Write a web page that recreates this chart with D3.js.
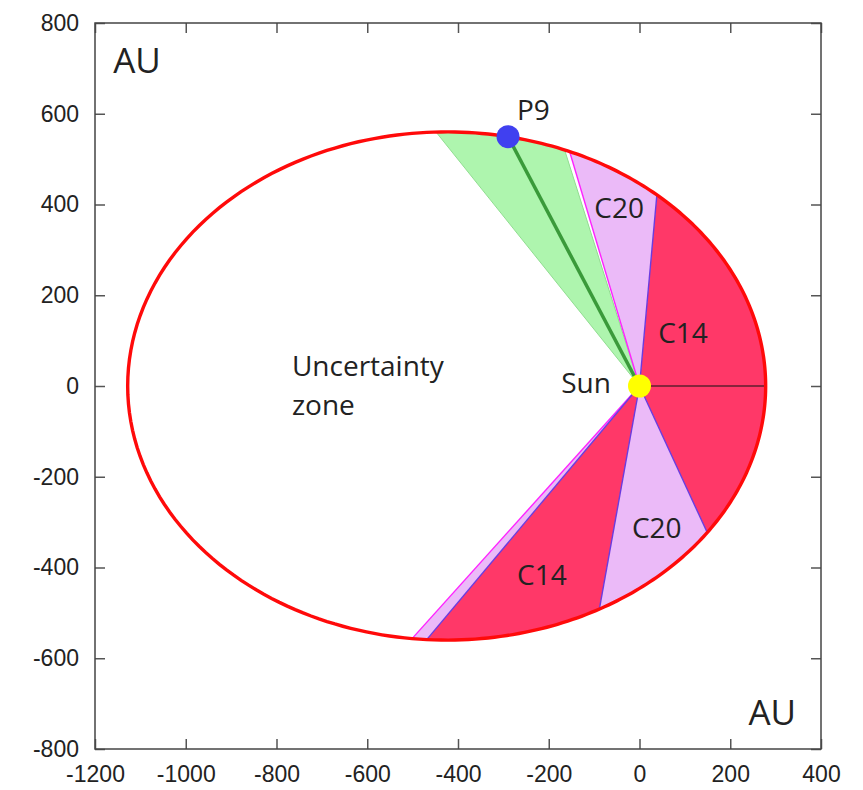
<!DOCTYPE html>
<html>
<head>
<meta charset="utf-8">
<script src="https://cdn.jsdelivr.net/npm/d3@7"></script>
<style>
  body { margin: 0; background: #fff; }
  .tick text { font-family: "Liberation Sans", Arial, sans-serif; font-size: 23px; fill: #222; }
  .lbl { font-family: "Open Sans", sans-serif; fill: #222; }
</style>
</head>
<body>
<svg id="graph" width="863" height="790"></svg>
<script>
// Axis ticks (AU)
const xTicks = [-1200, -1000, -800, -600, -400, -200, 0, 200, 400];
const yTicks = [-800, -600, -400, -200, 0, 200, 400, 600, 800];

// Orbit of P9 (AU), Sun at the focus
const semiMajor = 703;
const semiMinor = 560;

// Sectors seen from the Sun, angles in degrees from perihelion direction
const sectorLabels = ["C14", "C20", "C20", "C14", "C20"];
const sectorStart  = [-65.2, 84.8, -100.2, -130.0, -132.0];
const sectorEnd    = [84.8, 106.6, -65.2, -100.2, -130.0];

// P9 uncertainty band and position (degrees)
const p9Band = [107.6, 128.7];
const p9Angle = 117.8;

// Text annotations (AU)
const annotations = [
    { text: "C20", x: -45, y: 392, anchor: "middle" },
    { text: "C14", x: 96, y: 117, anchor: "middle" },
    { text: "C20", x: 38, y: -313, anchor: "middle" },
    { text: "C14", x: -215, y: -416, anchor: "middle" },
    { text: "Sun", x: -63, y: 6, anchor: "end" },
    { text: "P9", x: -270, y: 608, anchor: "start" },
    { text: "Uncertainty", x: -766, y: 44, anchor: "start" },
    { text: "zone", x: -766, y: -42, anchor: "start" }
];

const svg = d3.select("#graph"),
      margin = { top: 23, left: 95 },
      w = 726, h = 726;

const g = svg.append("g").attr("transform", `translate(${margin.left},${margin.top})`);

const x = d3.scaleLinear().domain([-1200, 400]).range([0, w]);
const y = d3.scaleLinear().domain([-800, 800]).range([h, 0]);

// polar radius of the orbit seen from the focus
const ecc = Math.sqrt(semiMajor * semiMajor - semiMinor * semiMinor) / semiMajor;
const p = semiMinor * semiMinor / semiMajor;
const rAt = deg => p / (1 + ecc * Math.cos(deg * Math.PI / 180));
const pt = deg => [rAt(deg) * Math.cos(deg * Math.PI / 180), rAt(deg) * Math.sin(deg * Math.PI / 180)];

const line = d3.line().x(d => x(d[0])).y(d => y(d[1]));

function wedge(a0, a1) {
    const steps = Math.max(2, Math.ceil(Math.abs(a1 - a0) / 0.5));
    const pts = [[0, 0]];
    d3.range(steps + 1).forEach(i => pts.push(pt(a0 + (a1 - a0) * i / steps)));
    pts.push([0, 0]);
    return line(pts);
}

// green band around P9
g.append("path")
    .attr("d", wedge(p9Band[0], p9Band[1]))
    .attr("fill", "#aef5ae")
    .attr("stroke", "#90dd90")
    .attr("stroke-width", 1);

// C14 / C20 sectors
sectorLabels.forEach((lab, i) => {
    g.append("path")
        .attr("d", wedge(sectorStart[i], sectorEnd[i]))
        .attr("fill", lab === "C14" ? "#ff3868" : "#ebbaf8");
});

// edges: magenta on the outer pink sides, violet between red and pink
const edges = [
    { a: 106.6, c: "#ff22ff" },
    { a: -132.0, c: "#ff22ff" },
    { a: 84.8, c: "#6a3ce0" },
    { a: -65.2, c: "#6a3ce0" },
    { a: -100.2, c: "#6a3ce0" },
    { a: -130.0, c: "#6a3ce0" }
];
edges.forEach(e => {
    g.append("path")
        .attr("d", line([[0, 0], pt(e.a)]))
        .attr("stroke", e.c)
        .attr("stroke-width", 1.4)
        .attr("fill", "none");
});

// line to perihelion
g.append("path")
    .attr("d", line([[0, 0], pt(0)]))
    .attr("stroke", "#111")
    .attr("stroke-width", 1.2);

// orbit
g.append("path")
    .attr("d", line(d3.range(0, 361, 1).map(pt)))
    .attr("fill", "none")
    .attr("stroke", "#ff0a0a")
    .attr("stroke-width", 3.4);

// line to P9
g.append("path")
    .attr("d", line([[0, 0], pt(p9Angle)]))
    .attr("stroke", "#3a9a3a")
    .attr("stroke-width", 3.5);

g.append("circle")
    .attr("cx", x(pt(p9Angle)[0])).attr("cy", y(pt(p9Angle)[1]))
    .attr("r", 11.5).attr("fill", "#4040f0");

g.append("circle")
    .attr("cx", x(0)).attr("cy", y(0))
    .attr("r", 11.5).attr("fill", "#ffff00");

annotations.forEach(a => {
    g.append("text")
        .attr("class", "lbl")
        .attr("x", x(a.x)).attr("y", y(a.y))
        .attr("dy", "0.35em")
        .attr("text-anchor", a.anchor)
        .style("font-size", "28px")
        .text(a.text);
});

// AU labels
g.append("text").attr("class", "lbl")
    .attr("x", x(-1160)).attr("y", y(716)).attr("dy", "0.35em")
    .style("font-size", "35px").text("AU");
g.append("text").attr("class", "lbl")
    .attr("x", x(345)).attr("y", y(-721)).attr("dy", "0.35em")
    .attr("text-anchor", "end")
    .style("font-size", "35px").text("AU");

// axes, ticks pointing inward, mirrored on top and right
const tickStyle = sel => {
    sel.select(".domain").remove();
    sel.selectAll(".tick line").attr("stroke", "#555").attr("stroke-width", 1.5);
};
const fmt = d => String(d);

g.append("g").attr("transform", `translate(0,${h})`)
    .call(d3.axisBottom(x).tickValues(xTicks).tickFormat(fmt).tickSizeInner(-10).tickPadding(17))
    .call(tickStyle);
g.append("g")
    .call(d3.axisLeft(y).tickValues(yTicks).tickFormat(fmt).tickSizeInner(-10).tickPadding(16))
    .call(tickStyle);
g.append("g")
    .call(d3.axisTop(x).tickValues(xTicks).tickSizeInner(-10).tickFormat(""))
    .call(tickStyle);
g.append("g").attr("transform", `translate(${w},0)`)
    .call(d3.axisRight(y).tickValues(yTicks).tickSizeInner(-10).tickFormat(""))
    .call(tickStyle);

g.selectAll(".tick text").attr("font-family", null).attr("font-size", null);

g.append("rect")
    .attr("width", w).attr("height", h)
    .attr("fill", "none")
    .attr("stroke", "#444")
    .attr("stroke-width", 1.5);
</script>
</body>
</html>
